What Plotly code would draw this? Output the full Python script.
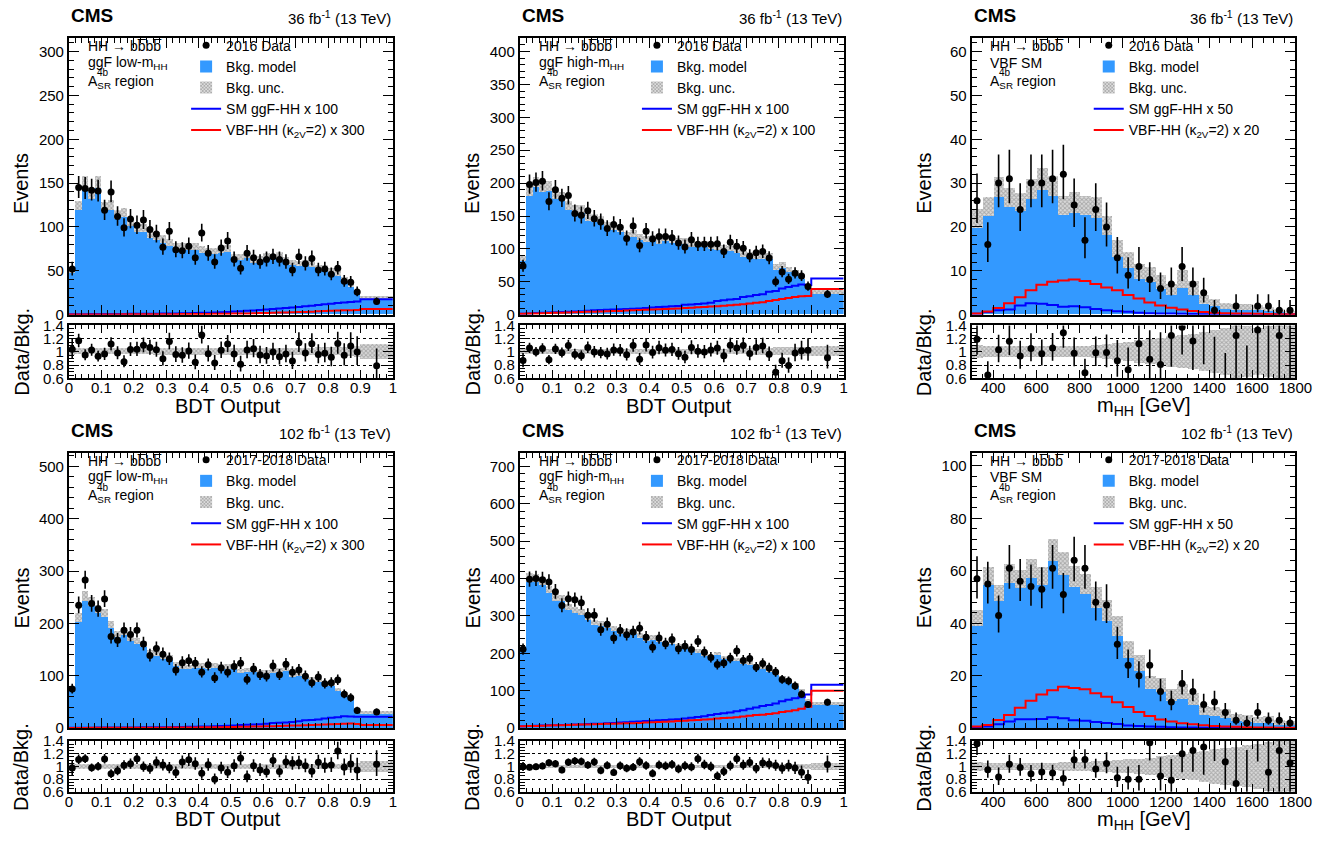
import numpy as np
import plotly.graph_objects as go

W, H = 1341, 842
FONT = "Liberation Sans, Arial, Helvetica, sans-serif"
BKG_BLUE = "#3399ff"
HATCH = "#777777"

# binning
bdt_edges = np.append(np.arange(0, 0.9001, 0.02), 1.0).round(2)
mhh_edges = np.arange(300, 1801, 50)

# ---- 2016, ggF low-mHH
data_16_low = [52, 145, 144, 142, 141, 119, 140, 112, 99, 109, 102, 108, 97, 92, 77, 95, 74, 73, 78, 65,
               93, 70, 60, 76, 84, 63, 53, 70, 65, 60, 63, 66, 63, 60, 51, 66, 58, 64, 51, 52,
               46, 53, 38, 37, 26, 15]
bkg_16_low = [50, 124, 151, 138, 151, 123, 125, 114, 116, 105, 98, 98, 91, 89, 86, 82, 77, 77, 77, 77,
              74, 72, 72, 74, 75, 65, 65, 68, 62, 63, 67, 66, 68, 62, 59, 58, 59, 57, 53, 53,
              50, 47, 40, 34, 26, 19]
unc_16_low = [0.05, 0.045, 0.045, 0.045, 0.045, 0.045, 0.045, 0.045, 0.045, 0.045, 0.045, 0.045, 0.045, 0.05, 0.05,
              0.05, 0.05, 0.05, 0.05, 0.05, 0.05, 0.05, 0.05, 0.05, 0.05, 0.05, 0.05, 0.05, 0.05, 0.05,
              0.05, 0.05, 0.05, 0.05, 0.05, 0.055, 0.055, 0.055, 0.06, 0.06, 0.06, 0.06, 0.065, 0.07, 0.08, 0.11]
ggf_16_low = [0.5, 0.6, 0.6, 0.7, 0.7, 0.8, 0.8, 0.9, 0.9, 1.0, 1.0, 1.1, 1.1, 1.2, 1.3, 1.4, 1.5, 1.6, 1.7, 1.9,
              2.1, 2.3, 2.6, 2.9, 3.2, 3.6, 4.0, 4.4, 4.9, 5.4, 6.0, 6.6, 7.2, 7.6, 8.2, 8.9, 9.6, 10.3, 11.0, 11.8,
              12.4, 13.2, 13.8, 14.4, 15.0, 17.5]
vbf_16_low = [0.2, 0.2, 0.2, 0.3, 0.3, 0.3, 0.3, 0.3, 0.4, 0.4, 0.4, 0.4, 0.5, 0.5, 0.5, 0.6, 0.6, 0.7, 0.7, 0.8,
              0.8, 0.9, 1.0, 1.1, 1.2, 1.3, 1.4, 1.5, 1.6, 1.8, 2.0, 2.2, 2.4, 2.6, 2.8, 3.0, 3.2, 3.5, 3.8, 4.1,
              4.4, 4.7, 5.0, 5.2, 5.3, 6.5]

# ---- 2016, ggF high-mHH
data_16_high = [74, 198, 201, 203, 172, 190, 177, 181, 154, 151, 158, 146, 141, 131, 137, 133, 116, 135, 105, 127,
                115, 119, 119, 117, 109, 103, 114, 107, 107, 107, 108, 96, 110, 104, 101, 89, 94, 96, 86, 50,
                65, 54, 63, 59, 43, 31]
bkg_16_high = [85, 187, 201, 193, 195, 182, 179, 165, 160, 160, 148, 146, 143, 135, 133, 130, 121, 123, 118, 115,
               116, 112, 116, 113, 112, 112, 107, 106, 107, 104, 102, 102, 100, 98, 92, 91, 88, 88, 89, 72,
               75, 68, 64, 58, 42, 34]
unc_16_high = [0.045, 0.04, 0.04, 0.04, 0.04, 0.04, 0.04, 0.04, 0.04, 0.04, 0.04, 0.04, 0.04, 0.04, 0.04,
               0.04, 0.04, 0.04, 0.04, 0.04, 0.04, 0.04, 0.04, 0.04, 0.04, 0.04, 0.04, 0.04, 0.04, 0.04,
               0.04, 0.04, 0.045, 0.045, 0.045, 0.045, 0.05, 0.05, 0.05, 0.06, 0.06, 0.06, 0.06, 0.065, 0.07, 0.075]
ggf_16_high = [1.5, 2.0, 2.4, 2.8, 3.2, 3.6, 4.0, 4.4, 4.8, 5.2, 6.0, 6.6, 7.0, 7.4, 7.8, 8.2, 8.6, 9.0, 9.5, 10.0,
               11.0, 11.6, 12.2, 12.8, 13.4, 15.0, 15.6, 16.2, 17.0, 18.0, 21.0, 22.0, 23.0, 24.0, 27.0, 28.0, 30.0, 31.0, 35.0, 36.0,
               40.0, 42.0, 44.0, 46.0, 45.0, 55.0]
vbf_16_high = [1.5, 1.8, 2.0, 2.3, 2.6, 2.9, 3.1, 3.4, 3.7, 4.0, 4.3, 4.6, 4.9, 5.2, 5.5, 5.8, 6.2, 6.6, 7.0, 7.4,
               7.8, 8.2, 8.6, 9.0, 9.5, 10.0, 10.6, 11.2, 11.8, 12.4, 13.0, 13.6, 14.2, 15.0, 15.8, 17.0, 18.0, 19.0, 21.0, 22.5,
               24.0, 25.5, 27.0, 28.0, 28.5, 39.0]

# ---- 2016, VBF SM (mHH)
data_16_vbf = [26, 16, 30, 31, 24, 30, 30, 31, 32, 25, 17, 24, 20, 13, 9, 11, 8, 6, 7, 11,
               7, 5, 1, 0, 2, 0, 2, 2, 1, 1]
bkg_16_vbf = [21.8, 24.6, 29.0, 26.7, 25.6, 28.5, 30.8, 29.3, 24.8, 25.5, 24.8, 24.3, 20.2, 15.0, 12.3,
              9.8, 9.0, 7.4, 5.6, 8.0, 6.0, 3.4, 2.7, 1.9, 1.6, 1.7, 1.5, 1.2, 0.8, 0.6]
unc_16_vbf = [0.10, 0.09, 0.08, 0.08, 0.08, 0.08, 0.08, 0.08, 0.09, 0.09, 0.09, 0.10, 0.11, 0.13, 0.15,
              0.17, 0.19, 0.21, 0.23, 0.25, 0.27, 0.29, 0.32, 0.35, 0.40, 0.38, 0.36, 0.38, 0.40, 0.42]
ggf_16_vbf = [0.2, 0.6, 1.0, 1.2, 2.1, 2.6, 2.5, 2.2, 1.8, 1.9, 1.7, 1.3, 1.0, 0.8, 0.7,
              0.45, 0.35, 0.3, 0.25, 0.2, 0.15, 0.12, 0.1, 0.08, 0.06, 0.05, 0.04, 0.03, 0.03, 0.02]
vbf_16_vbf = [0.3, 0.75, 1.5, 2.6, 4.0, 5.6, 6.8, 7.5, 7.8, 8.0, 7.7, 7.0, 6.2, 5.6, 4.5,
              3.7, 2.8, 2.1, 1.6, 1.2, 0.85, 0.6, 0.45, 0.35, 0.3, 0.25, 0.2, 0.15, 0.12, 0.1]

# ---- 2017-2018, ggF low-mHH
data_1718_low = [75, 235, 283, 238, 228, 247, 175, 168, 187, 179, 187, 161, 139, 152, 141, 132, 111, 125, 129, 124,
                 107, 121, 96, 115, 107, 118, 124, 93, 113, 102, 99, 119, 102, 122, 107, 111, 99, 87, 98, 85,
                 87, 92, 65, 58, 34, 31]
bkg_1718_low = [77, 212, 253, 243, 228, 221, 198, 180, 184, 172, 167, 162, 144, 143, 138, 135, 123, 117, 117, 119,
                120, 118, 120, 118, 118, 117, 110, 111, 112, 108, 108, 109, 111, 114, 102, 105, 98, 94, 92, 84,
                85, 74, 66, 56, 36, 30]
unc_1718_low = [0.05, 0.04, 0.035, 0.035, 0.035, 0.035, 0.035, 0.035, 0.035, 0.035, 0.035, 0.035, 0.035, 0.035, 0.035,
                0.035, 0.035, 0.035, 0.035, 0.035, 0.035, 0.035, 0.035, 0.035, 0.035, 0.035, 0.035, 0.035, 0.035, 0.035,
                0.035, 0.035, 0.035, 0.035, 0.035, 0.04, 0.04, 0.04, 0.04, 0.04, 0.045, 0.045, 0.05, 0.05, 0.06, 0.09]
ggf_1718_low = [0.8, 0.9, 1.0, 1.0, 1.1, 1.1, 1.2, 1.2, 1.3, 1.4, 1.5, 1.6, 1.7, 1.8, 1.9, 2.0, 2.2, 2.4, 2.6, 2.8,
                3.0, 3.3, 3.6, 4.0, 4.5, 5.0, 6.0, 6.5, 7.0, 7.5, 8.5, 10.0, 10.5, 11.0, 12.0, 13.0, 15.0, 15.5, 16.5, 18.5,
                20.0, 21.0, 23.0, 22.5, 22.0, 22.0]
vbf_1718_low = [0.5, 0.5, 0.5, 0.6, 0.6, 0.6, 0.7, 0.7, 0.7, 0.8, 0.8, 0.9, 0.9, 1.0, 1.0, 1.1, 1.2, 1.3, 1.4, 1.5,
                1.6, 1.7, 1.9, 2.0, 2.2, 2.4, 2.6, 2.8, 3.0, 3.3, 3.6, 3.9, 4.2, 4.5, 4.9, 5.3, 5.7, 6.1, 6.5, 7.0,
                7.5, 8.0, 8.5, 9.0, 8.0, 6.0]

# ---- 2017-2018, ggF high-mHH
data_1718_high = [211, 398, 400, 397, 391, 365, 328, 346, 343, 335, 302, 302, 263, 278, 241, 261, 250, 257, 267, 243,
                  216, 241, 226, 237, 212, 219, 210, 232, 203, 189, 170, 174, 187, 206, 181, 186, 163, 173, 161, 150,
                  130, 126, 113, 91, 63, 69]
bkg_1718_high = [212, 404, 402, 394, 370, 350, 348, 325, 316, 311, 296, 282, 281, 274, 266, 258, 258, 260, 249, 240,
                 243, 236, 225, 230, 221, 217, 212, 207, 198, 190, 200, 189, 185, 184, 177, 175, 168, 164, 155, 148,
                 134, 125, 116, 100, 76, 67]
unc_1718_high = [0.035, 0.03, 0.025, 0.025, 0.025, 0.025, 0.025, 0.025, 0.025, 0.025, 0.025, 0.025, 0.025, 0.025, 0.025,
                 0.025, 0.025, 0.025, 0.025, 0.025, 0.025, 0.025, 0.025, 0.025, 0.025, 0.025, 0.025, 0.025, 0.025, 0.025,
                 0.025, 0.025, 0.025, 0.025, 0.025, 0.03, 0.03, 0.03, 0.03, 0.03, 0.035, 0.035, 0.035, 0.04, 0.045, 0.05]
ggf_1718_high = [5, 6, 6.5, 7, 7.5, 8, 8.5, 9, 9.5, 10, 11, 11.5, 12, 13, 14, 15, 16, 17, 18, 19,
                 20, 21, 22, 23, 24, 26, 28, 30, 32, 35, 38, 40, 42, 45, 48, 52, 55, 59, 62, 66,
                 72, 76, 80, 83, 90, 116]
vbf_1718_high = [5, 5.5, 6, 6.5, 7, 7.5, 8, 8.5, 9, 9.5, 10, 10.5, 11, 11.5, 12, 12.5, 13, 13.5, 14, 15,
                 16, 16.5, 17, 18, 19, 20, 21, 22, 23, 24, 26, 27, 28, 29, 31, 33, 35, 36, 38, 40,
                 43, 45, 48, 52, 57, 100]

# ---- 2017-2018, VBF SM (mHH)
data_1718_vbf = [57, 55, 43, 61, 56, 54, 53, 61, 51, 64, 61, 48, 47, 32, 24, 20, 24, 14, 10, 17,
                 14, 9, 10, 6, 3, 2, 6, 3, 3, 2]
bkg_1718_vbf = [42, 58, 51.5, 59, 57, 61, 58, 68, 63, 58, 55, 50, 45, 39, 30,
                25, 17.5, 16.5, 12.8, 14.2, 11.2, 6.9, 6.3, 5.6, 4.1, 3.7, 3.3, 3.3, 2.4, 1.9]
unc_1718_vbf = [0.07, 0.06, 0.06, 0.06, 0.06, 0.06, 0.06, 0.06, 0.07, 0.07, 0.07, 0.08, 0.09, 0.10, 0.11,
                0.12, 0.14, 0.16, 0.18, 0.20, 0.22, 0.24, 0.27, 0.29, 0.31, 0.33, 0.36, 0.38, 0.40, 0.42]
ggf_1718_vbf = [0.3, 0.6, 1.5, 2.5, 3.4, 3.4, 3.5, 4.2, 3.8, 3.0, 2.8, 2.4, 2.0, 1.6, 1.0,
                0.8, 0.6, 0.5, 0.4, 0.3, 0.25, 0.2, 0.15, 0.12, 0.1, 0.08, 0.06, 0.05, 0.04, 0.03]
vbf_1718_vbf = [0.6, 1.2, 3.1, 5.0, 7.8, 10.5, 12.8, 14.5, 15.8, 15.3, 14.8, 13.3, 12.0, 9.9, 8.1,
                6.2, 4.6, 3.3, 2.5, 1.9, 1.5, 1.1, 0.8, 0.6, 0.5, 0.4, 0.3, 0.3, 0.2, 0.2]

panels = [
    dict(edges=bdt_edges, data=data_16_low, bkg=bkg_16_low, unc=unc_16_low, ggf=ggf_16_low, vbf=vbf_16_low,
         ymax=315, dtick=50, mtick=10, lumi="36", era="2016", cat="ggF low-m<sub>HH</sub>", kggf=100, kvbf=300),
    dict(edges=bdt_edges, data=data_16_high, bkg=bkg_16_high, unc=unc_16_high, ggf=ggf_16_high, vbf=vbf_16_high,
         ymax=420, dtick=50, mtick=10, lumi="36", era="2016", cat="ggF high-m<sub>HH</sub>", kggf=100, kvbf=100),
    dict(edges=mhh_edges, data=data_16_vbf, bkg=bkg_16_vbf, unc=unc_16_vbf, ggf=ggf_16_vbf, vbf=vbf_16_vbf,
         ymax=63, dtick=10, mtick=2, lumi="36", era="2016", cat="VBF SM", kggf=50, kvbf=20),
    dict(edges=bdt_edges, data=data_1718_low, bkg=bkg_1718_low, unc=unc_1718_low, ggf=ggf_1718_low, vbf=vbf_1718_low,
         ymax=526, dtick=100, mtick=20, lumi="102", era="2017-2018", cat="ggF low-m<sub>HH</sub>", kggf=100, kvbf=300),
    dict(edges=bdt_edges, data=data_1718_high, bkg=bkg_1718_high, unc=unc_1718_high, ggf=ggf_1718_high, vbf=vbf_1718_high,
         ymax=736, dtick=100, mtick=20, lumi="102", era="2017-2018", cat="ggF high-m<sub>HH</sub>", kggf=100, kvbf=100),
    dict(edges=mhh_edges, data=data_1718_vbf, bkg=bkg_1718_vbf, unc=unc_1718_vbf, ggf=ggf_1718_vbf, vbf=vbf_1718_vbf,
         ymax=105, dtick=20, mtick=4, lumi="102", era="2017-2018", cat="VBF SM", kggf=50, kvbf=20),
]

# frame positions in pixels
col_l = [66, 524, 983]
col_r = [395, 853, 1312]
row_t = [30, 453]
row_b = [312, 734]
rat_t = [323, 747]
rat_b = [377, 799]


def px(x):
    return x / W


def py(y):
    return 1 - y / H


def poisson_err(n):
    n = np.asarray(n, float)
    return np.sqrt(n + 0.75) + 1.0, np.sqrt(n)


fig = go.Figure()
layout = dict(width=W, height=H, margin=dict(l=0, r=0, t=0, b=0), paper_bgcolor="white", plot_bgcolor="white",
              barmode="overlay", bargap=0, font=dict(family=FONT, size=15, color="black"))
annotations = []

hatch = dict(shape="x", fgcolor=HATCH, bgcolor="#dcdcdc", size=3, solidity=0.55)
common = dict(showline=True, linecolor="black", linewidth=2, mirror="allticks", ticks="inside",
              tickcolor="black", tickwidth=1, showgrid=False, zeroline=False, tickfont=dict(size=15))

for k, p in enumerate(panels):
    r, c = k // 3, k % 3
    L, R, T, B, RT, RB = col_l[c], col_r[c], row_t[r], row_b[r], rat_t[r], rat_b[r]
    nm, nr = 2 * k + 1, 2 * k + 2
    xm, ym = ("x", "y") if nm == 1 else (f"x{nm}", f"y{nm}")
    xr, yr = f"x{nr}", f"y{nr}"
    leg = "legend" if k == 0 else f"legend{k + 1}"

    edges = np.asarray(p["edges"], float)
    centers = 0.5 * (edges[:-1] + edges[1:])
    widths = edges[1:] - edges[:-1]
    data = np.asarray(p["data"], float)
    bkg = np.asarray(p["bkg"], float)
    rel = np.asarray(p["unc"], float)
    up, dn = poisson_err(data)
    is_bdt = edges[-1] <= 1.0

    fig.add_trace(go.Bar(x=centers, y=bkg, width=widths, marker=dict(color=BKG_BLUE, line=dict(width=0)),
                         name="Bkg. model", legend=leg, legendrank=2, xaxis=xm, yaxis=ym, hoverinfo="skip"))
    fig.add_trace(go.Bar(x=centers, y=2 * bkg * rel, base=bkg - bkg * rel, width=widths,
                         marker=dict(color="#dcdcdc", line=dict(width=0), pattern=hatch),
                         name="Bkg. unc.", legend=leg, legendrank=3, xaxis=xm, yaxis=ym, hoverinfo="skip"))
    fig.add_trace(go.Scatter(x=edges, y=list(p["ggf"]) + [p["ggf"][-1]], mode="lines",
                             line=dict(shape="hv", color="#0000ff", width=2),
                             name=f"SM ggF-HH x {p['kggf']}", legend=leg, legendrank=4, xaxis=xm, yaxis=ym))
    fig.add_trace(go.Scatter(x=edges, y=list(p["vbf"]) + [p["vbf"][-1]], mode="lines",
                             line=dict(shape="hv", color="#ff0000", width=2),
                             name=f"VBF-HH (\u03ba<sub>2V</sub>=2) x {p['kvbf']}", legend=leg, legendrank=5,
                             xaxis=xm, yaxis=ym))
    fig.add_trace(go.Scatter(x=centers, y=[v if v > 0 else None for v in data], mode="markers",
                             marker=dict(color="black", size=7),
                             error_y=dict(type="data", symmetric=False, array=up, arrayminus=dn,
                                          color="black", thickness=1.6, width=0),
                             name=f"{p['era']} Data", legend=leg, legendrank=1, xaxis=xm, yaxis=ym))

    # ratio panel
    fig.add_trace(go.Bar(x=centers, y=2 * rel, base=1 - rel, width=widths,
                         marker=dict(color="#dcdcdc", line=dict(width=0), pattern=hatch),
                         showlegend=False, xaxis=xr, yaxis=yr, hoverinfo="skip"))
    fig.add_trace(go.Scatter(x=centers, y=data / bkg, mode="markers", marker=dict(color="black", size=7),
                             error_y=dict(type="data", symmetric=False, array=up / bkg, arrayminus=dn / bkg,
                                          color="black", thickness=1.6, width=0),
                             showlegend=False, xaxis=xr, yaxis=yr))

    xrange = [edges[0], edges[-1]]
    xdt, xmt = (0.1, 0.02) if is_bdt else (200, 50)
    kx = "xaxis" if nm == 1 else f"xaxis{nm}"
    ky = "yaxis" if nm == 1 else f"yaxis{nm}"
    layout[kx] = dict(common, domain=[px(L), px(R)], anchor=ym, range=xrange, tick0=0, dtick=xdt, ticklen=10,
                      showticklabels=False,
                      minor=dict(tick0=0, dtick=xmt, ticklen=5, ticks="inside", tickcolor="black", showgrid=False))
    layout[ky] = dict(common, domain=[py(B), py(T)], anchor=xm, range=[0, p["ymax"]], tick0=0, dtick=p["dtick"],
                      ticklen=10,
                      minor=dict(tick0=0, dtick=p["mtick"], ticklen=5, ticks="inside", tickcolor="black",
                                 showgrid=False))
    layout[f"xaxis{nr}"] = dict(common, domain=[px(L), px(R)], anchor=yr, range=xrange, tick0=0, dtick=xdt,
                                ticklen=8, ticklabelstandoff=-5,
                                minor=dict(tick0=0, dtick=xmt, ticklen=4, ticks="inside", tickcolor="black",
                                           showgrid=False))
    layout[f"yaxis{nr}"] = dict(common, domain=[py(RB), py(RT)], anchor=xr, range=[0.6, 1.4], tickmode="array",
                                tickvals=[0.6, 0.8, 1.0, 1.2, 1.4], ticktext=["0.6", "0.8", "1", "1.2", "1.4"],
                                ticklen=10, showgrid=True, gridcolor="black", griddash="dot", gridwidth=1,
                                minor=dict(tick0=0.6, dtick=0.05, ticklen=5, ticks="inside", tickcolor="black",
                                           showgrid=False))
    layout[leg] = dict(x=px(L + 119), y=py(T - 9), xanchor="left", yanchor="top", bgcolor="rgba(0,0,0,0)",
                       font=dict(size=14, family=FONT), traceorder="normal", itemwidth=30)

    def ann(text, x, y, size=14, xa="left", ya="middle", angle=0):
        annotations.append(dict(text=text, x=px(x), y=py(y), xref="paper", yref="paper", showarrow=False,
                                xanchor=xa, yanchor=ya, textangle=angle, font=dict(size=size, family=FONT)))

    ann("<b>CMS</b>", L, T - 23, size=19)
    ann(f"{p['lumi']} fb<sup>-1</sup> (13 TeV)", R, T - 21, size=15, xa="right")
    ann("HH \u2192 bb\u0305bb\u0305", L + 17, T + 8)
    ann(p["cat"], L + 17, T + 25)
    ann("A<sub>SR</sub> region", L + 17, T + 44)
    ann("4b", L + 26, T + 35, size=10)
    ann("Events", L - 48, T + 148, size=20, xa="center", angle=-90)
    ann("Data/Bkg.", L - 48, RT + 27, size=20, xa="center", angle=-90)
    if is_bdt:
        ann("BDT Output", L + 162, RB + 28, size=20, xa="center")
    else:
        ann("m<sub>HH</sub> [GeV]", L + 175, RB + 29, size=20, xa="center")

layout["annotations"] = annotations
fig.update_layout(**layout)

fig.write_html("out.html", config={"displayModeBar": False},
               post_script="document.body.style.margin='0';document.body.style.overflow='hidden';")
